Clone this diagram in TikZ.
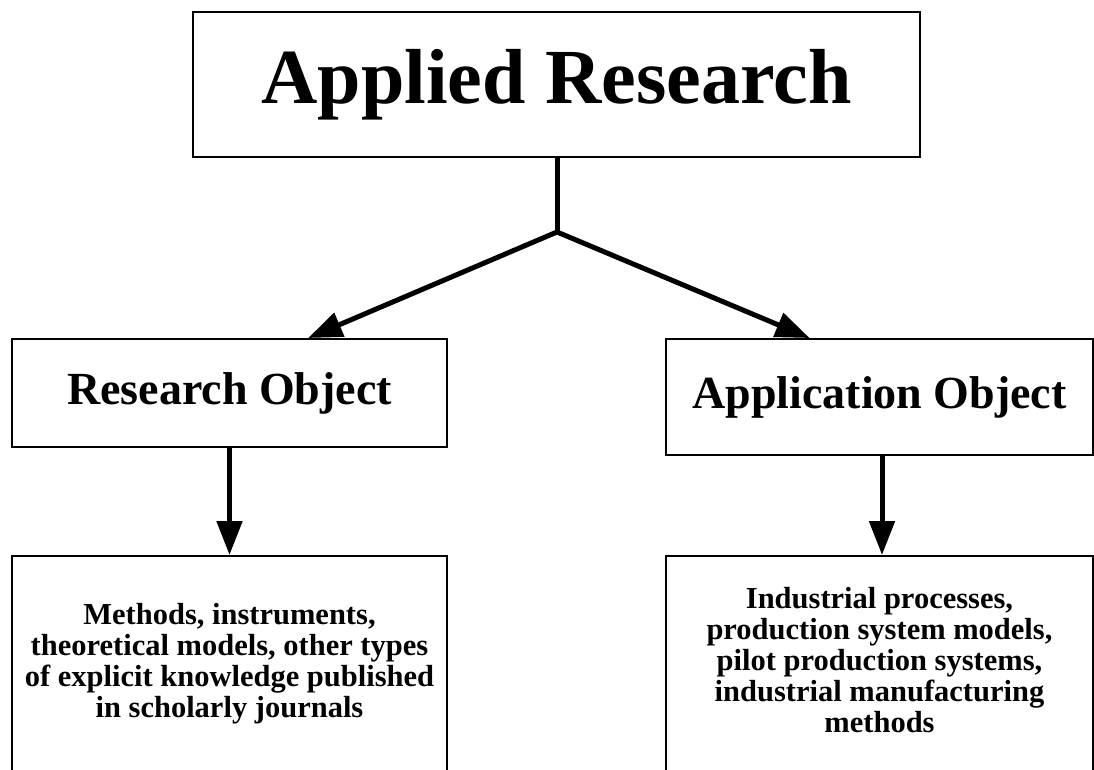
\documentclass[tikz,border=0pt]{standalone}
\usepackage{fontspec}
\setmainfont{Liberation Serif}
\usetikzlibrary{arrows.meta,calc}
\begin{document}
\begin{tikzpicture}[x=1pt,y=-1pt,
  box/.style={draw=black,line width=2pt,fill=white,inner sep=0pt},
  conn/.style={line width=5pt,-{Triangle[length=34pt,width=25pt]}},
  bigfont/.style={font=\bfseries\fontsize{78}{90}\selectfont},
  midfont/.style={font=\bfseries\fontsize{46}{52}\selectfont},
  smallfont/.style={font=\bfseries\fontsize{30.5}{31}\selectfont,align=center,inner sep=0pt}]
\useasboundingbox (0,0) rectangle (1094,769);
\clip (0,0) rectangle (1094,769);
\node[box,minimum width=727pt,minimum height=145pt,bigfont] (top) at (556.5,84.5) {Applied Research};
\node[box,minimum width=435pt,minimum height=108pt,midfont] (ro) at (229.5,393) {Research Object};
\node[box,minimum width=427pt,minimum height=116pt,midfont] (ao) at (879.5,397) {Application Object};
\node[box,minimum width=435pt,minimum height=250pt] (bl) at (229.5,681) {};
\node[box,minimum width=427pt,minimum height=250pt] (br) at (879.5,681) {};
\node[smallfont] (blt) at (229.5,664) {Methods, instruments,\\theoretical models, other types\\of explicit knowledge published\\in scholarly journals};
\node[smallfont] (brt) at (879.5,660) {Industrial processes,\\production system models,\\pilot production systems,\\industrial manufacturing\\methods};
\coordinate (J) at (557,232);
\draw[line width=5pt] (top.south -| J) -- (J);
\draw[conn] (J) -- ($(ro.north west)!0.68!(ro.north east)$);
\draw[conn] (J) -- ($(ao.north west)!0.337!(ao.north east)$);
\draw[conn] (ro.south) -- (bl.north);
\draw[conn] (ao.south -| 882,0) -- (br.north -| 882,0);
\end{tikzpicture}
\end{document}
